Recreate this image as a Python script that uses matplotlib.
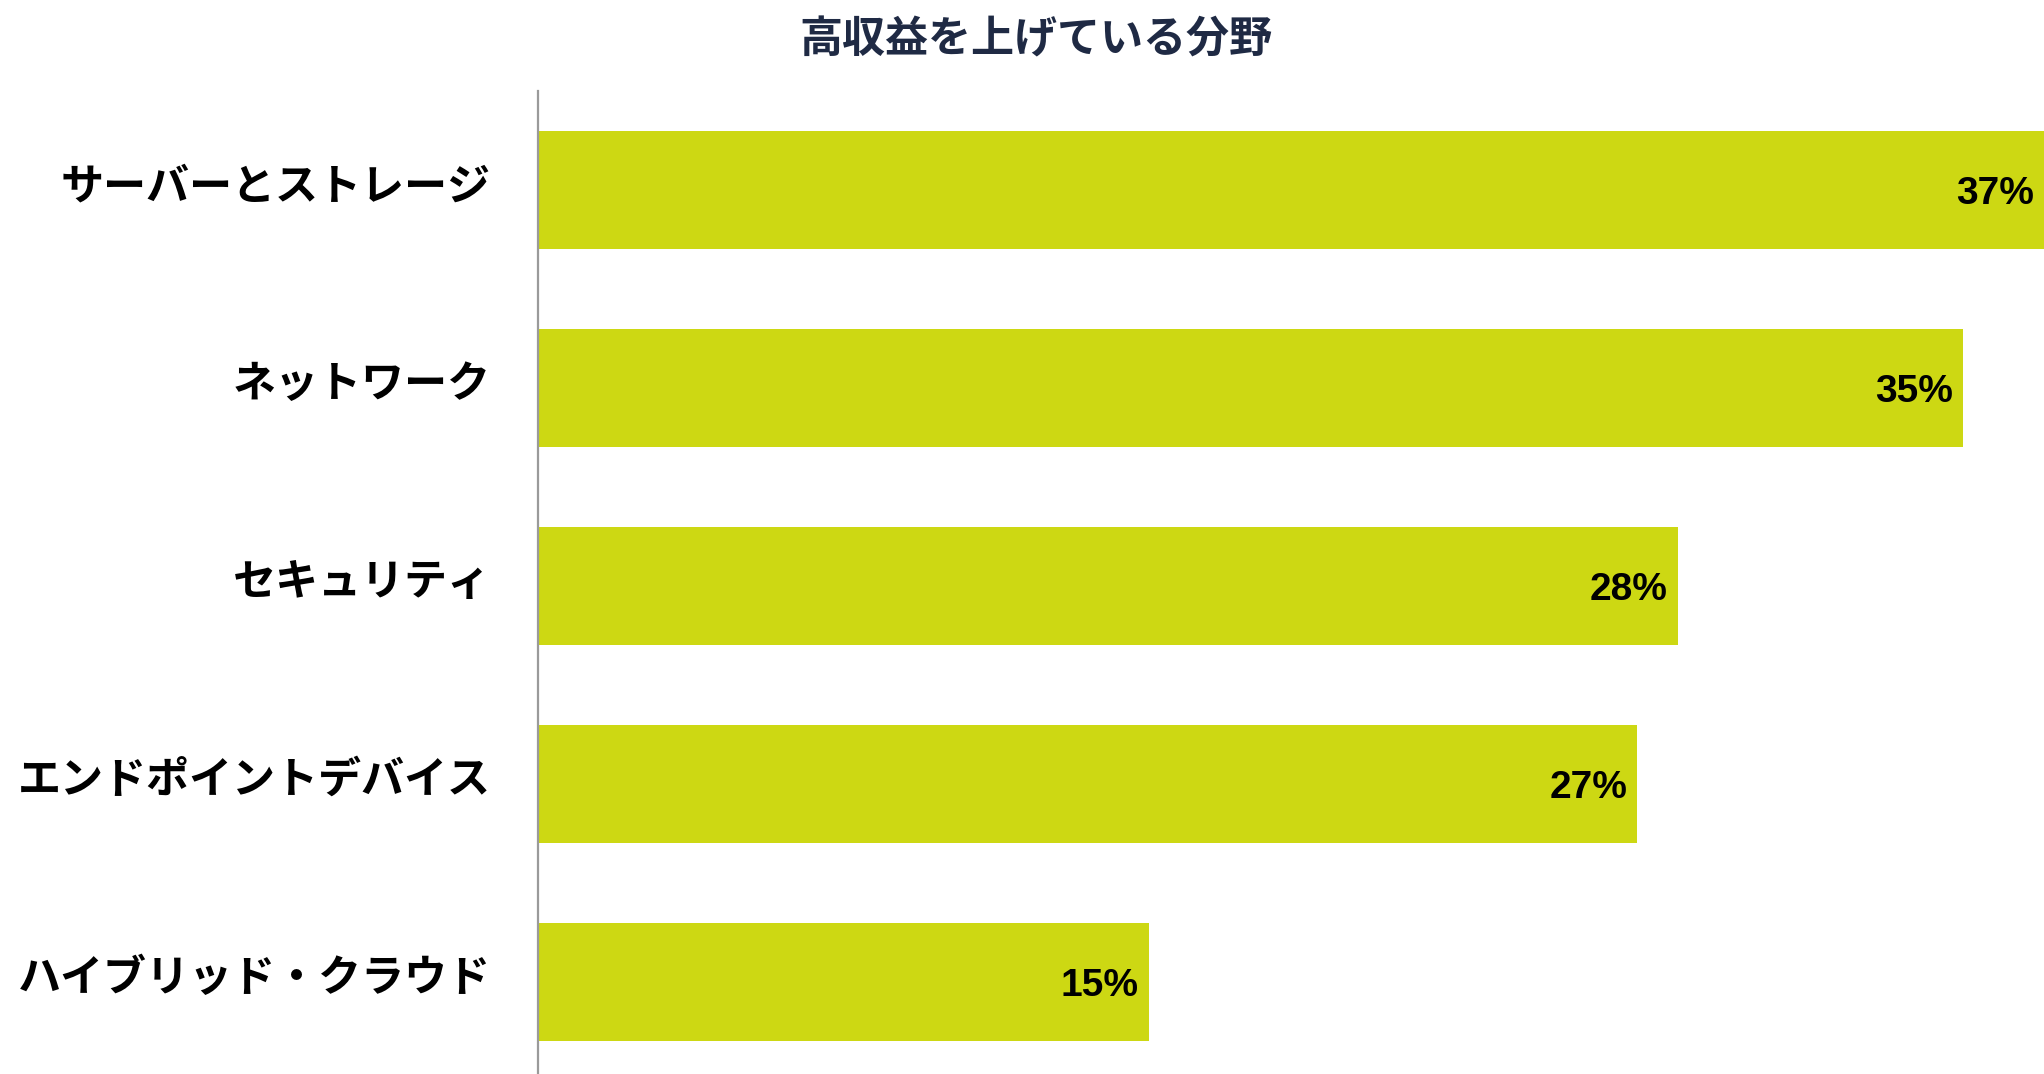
import matplotlib.pyplot as plt
import matplotlib.transforms as mtransforms

plt.rcParams['font.family'] = ['Noto Sans CJK JP', 'DejaVu Sans']

categories = ["サーバーとストレージ", "ネットワーク", "セキュリティ", "エンドポイントデバイス", "ハイブリッド・クラウド"]
values = [37, 35, 28, 27, 15]
value_labels = ["37%", "35%", "28%", "27%", "15%"]

bar_color = "#CDD813"
title_color = "#1F2A44"

fig = plt.figure(figsize=(20.44, 10.74), dpi=100)
ax = fig.add_axes([538 / 2044, 0, 1 - 538 / 2044, 1 - 91 / 1074])

y = list(range(len(categories)))
bars = ax.barh(y, values, height=0.6, color=bar_color, zorder=2)

ax.set_xlim(0, 37)
ax.set_ylim(4.465, -0.5)

for spine in ["top", "right", "bottom"]:
    ax.spines[spine].set_visible(False)
ax.spines["left"].set_color("#9a9a9a")
ax.spines["left"].set_linewidth(1.6)

ax.set_xticks([])
ax.set_yticks(y)
ax.set_yticklabels(categories, fontsize=31, fontweight="bold", color="black")
ax.tick_params(axis="y", length=0, pad=34)

# nudge the category labels up a touch
shift = mtransforms.ScaledTranslation(0, 6 / 72, fig.dpi_scale_trans)
for lab in ax.get_yticklabels():
    lab.set_transform(lab.get_transform() + shift)

for bar, lab in zip(bars, value_labels):
    ax.annotate(lab, (bar.get_width(), bar.get_y() + bar.get_height() / 2),
                xytext=(-7, -3), textcoords="offset points",
                ha="right", va="center", fontsize=28, fontweight="bold",
                family="Liberation Sans", color="black")

fig.text(0.507, 1 - 39 / 1074, "高収益を上げている分野", ha="center", va="center",
         fontsize=31, fontweight="bold", color=title_color)

fig.savefig("out.png", dpi=100)
